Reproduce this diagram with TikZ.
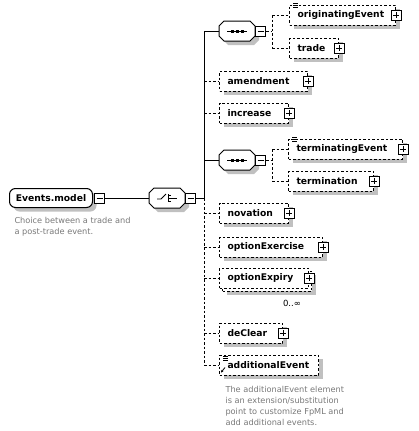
\documentclass[tikz,border=0pt]{standalone}
\usepackage{fontspec}
\setmainfont{DejaVu Sans}
\usetikzlibrary{shadows,arrows.meta}
\definecolor{descgray}{RGB}{120,120,120}
\definecolor{shadowgray}{RGB}{192,192,192}
\newcommand\octpath[1]{%
  \filldraw[fill=white,shd] ([xshift=5pt]#1.north west) -- ([xshift=-5pt]#1.north east) -- ([yshift=-5pt]#1.north east) -- ([yshift=5pt]#1.south east) -- ([xshift=-5pt]#1.south east) -- ([xshift=5pt]#1.south west) -- ([yshift=5pt]#1.south west) -- ([yshift=-5pt]#1.north west) -- cycle;}
\begin{document}
\begin{tikzpicture}[x=1pt,y=-1pt,line width=1pt,
  dsh/.style={dash pattern=on 2.5pt off 2pt},
  shd/.style={drop shadow={shadow xshift=4pt,shadow yshift=-4pt,fill=shadowgray,opacity=1}},
  elem/.style={draw,dsh,fill=white,anchor=west,minimum height=20pt,inner xsep=8pt,inner ysep=0pt,text width=#1,align=left,font=\fontsize{9.2}{10}\selectfont\bfseries},
  elems/.style={elem=#1,shd},
  pbox/.style={draw,solid,fill=white,minimum size=10pt,inner sep=0pt,
    path picture={\draw[solid,line width=1pt] ([xshift=2pt]path picture bounding box.west) -- ([xshift=-2pt]path picture bounding box.east);
      \draw[solid,line width=1pt] ([yshift=-2pt]path picture bounding box.north) -- ([yshift=2pt]path picture bounding box.south);}},
  mbox/.style={draw,solid,fill=white,minimum size=10pt,inner sep=0pt,anchor=west,
    path picture={\draw[solid,line width=1pt] ([xshift=2pt]path picture bounding box.west) -- ([xshift=-2pt]path picture bounding box.east);}},
  oct/.style={rectangle,minimum width=35pt,minimum height=19pt,inner sep=0pt},
  desc/.style={anchor=north west,inner sep=0pt,align=left,text=descgray,font=\fontsize{8.2}{11}\selectfont},
  icon/.style={line width=0.8pt,solid},
]
\useasboundingbox (0,0) rectangle (418,431);

% root
\node[draw,rounded corners=6pt,fill=white,shd,minimum width=83pt,minimum height=19pt,inner sep=0pt,font=\fontsize{9.2}{10}\selectfont\bfseries] (em) at (51,198) {Events.model};
\node[mbox] (emm) at ([xshift=1pt]em.east) {};
\node[desc] (d1) at (14,216.5) {Choice between a trade and\\a post-trade event.};

% choice
\node[oct] (ch) at (167,198) {};
\octpath{ch}
\node[mbox] (chm) at (ch.east) {};
\draw[line width=0.9pt] ([shift={(-10,1)}]ch.center) -- ([shift={(-6,1)}]ch.center) -- ([shift={(-1,-4)}]ch.center);
\draw[line width=0.9pt] ([shift={(1,-4)}]ch.center) -- ([shift={(1,4)}]ch.center);
\foreach \dy in {-3,0,3} \draw[line width=0.9pt] ([shift={(1,\dy)}]ch.center) -- ([shift={(4,\dy)}]ch.center);
\draw[line width=0.9pt] ([shift={(4,0)}]ch.center) -- ([shift={(10,0)}]ch.center);

% sequence 1
\node[oct] (s1) at (237,31) {};
\octpath{s1}
\node[mbox] (s1m) at (s1.east) {};
\draw ([xshift=-10pt]s1.center) -- ([xshift=10pt]s1.center);
\foreach \dx in {-5,0,5} \fill ([shift={(\dx,0)}]s1.center) +(-1.5,-1.5) rectangle +(1.5,1.5);

% sequence 2
\node[oct] (s2) at (237,160) {};
\octpath{s2}
\node[mbox] (s2m) at (s2.east) {};
\draw ([xshift=-10pt]s2.center) -- ([xshift=10pt]s2.center);
\foreach \dx in {-5,0,5} \fill ([shift={(\dx,0)}]s2.center) +(-1.5,-1.5) rectangle +(1.5,1.5);

% elements
\node[elems=90pt] (oe) at (289,15) {originatingEvent};
\node[pbox] (oep) at (oe.east) {};
\node[elems=33pt] (tr) at (289,48) {trade};
\node[pbox] (trp) at (tr.east) {};
\node[elems=72pt] (am) at (219,81) {amendment};
\node[pbox] (amp) at (am.east) {};
\node[elems=53pt] (inc) at (219,113) {increase};
\node[pbox] (incp) at (inc.east) {};
\node[elems=98pt] (te) at (288,149) {terminatingEvent};
\node[pbox] (tep) at (te.east) {};
\node[elems=69pt] (tm) at (288,181) {termination};
\node[pbox] (tmp) at (tm.east) {};
\node[elems=53pt] (nv) at (219,213) {novation};
\node[pbox] (nvp) at (nv.east) {};
\node[elems=87pt] (oex) at (219,247) {optionExercise};
\node[pbox] (oexp) at (oex.east) {};
\node[elems=73pt] (oxr) at (222,281) {};
\node[elem=73pt] (ox) at (219,278) {optionExpiry};
\node[pbox] (oxp) at (ox.east) {};
\node[inner sep=0pt,font=\fontsize{8.5}{9}\selectfont] (oxm) at (292,303) {0..∞};
\node[elems=47pt] (dc) at (219,333) {deClear};
\node[pbox] (dcp) at (dc.east) {};
\node[elems=83pt] (ae) at (219,365) {additionalEvent};
\node[desc] (d2) at (225,385.5) {The additionalEvent element\\is an extension/substitution\\point to customize FpML and\\add additional events.};

% icons
\foreach \n in {oe,te} {
  \foreach \dy in {-1,1,3} \draw[icon] ([shift={(4,\dy)}]\n.north west) -- ++(5,0);
}
\foreach \dy in {2,4,6} \draw[icon] ([shift={(4,\dy)}]ae.north west) -- ++(5,0);
\draw[icon,-{Stealth[length=2.5pt,width=2.5pt]}] ([shift={(6,-8)}]ae.south west) -- ([shift={(2,-3)}]ae.south west);

% connectors
\coordinate (sp1) at (204,31);
\coordinate (sp2) at (204,160);
\coordinate (spc) at (204,198);
\coordinate (spe) at (204,365);
\coordinate (b1) at (272,31);
\coordinate (b2) at (272,160);
\draw (emm.east) -- (ch.west);
\draw (chm.east) -- (spc);
\draw (sp1) -- (spc);
\draw[dsh] (spc) -- (spe);
\draw (sp1) -- (s1.west);
\draw (sp2) -- (s2.west);
\foreach \n in {am,inc,nv,oex,ox,dc,ae} \draw[dsh] (\n.west -| sp1) -- (\n.west);
\draw[dsh] (s1m.east) -- (b1);
\draw[dsh] (oe.west -| b1) -- (tr.west -| b1);
\draw[dsh] (oe.west -| b1) -- (oe.west);
\draw[dsh] (tr.west -| b1) -- (tr.west);
\draw[dsh] (s2m.east) -- (b2);
\draw[dsh] (te.west -| b2) -- (tm.west -| b2);
\draw[dsh] (te.west -| b2) -- (te.west);
\draw[dsh] (tm.west -| b2) -- (tm.west);
\end{tikzpicture}
\end{document}
